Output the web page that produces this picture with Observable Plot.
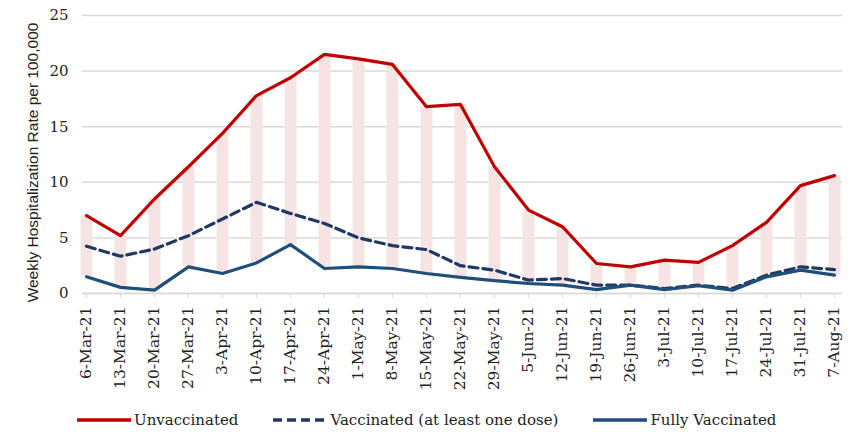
<!DOCTYPE html>
<html><head><meta charset="utf-8">
<script src="https://cdn.jsdelivr.net/npm/d3@7"></script>
<script src="https://cdn.jsdelivr.net/npm/@observablehq/plot@0.6"></script>
<style>
body{margin:0;background:#fff;}
#wrap{position:relative;width:859px;height:432px;}
.legend{position:absolute;left:77px;top:411px;display:flex;align-items:center;gap:35px;font-family:"DejaVu Serif",serif;font-size:15px;color:#222;}
.legend .item{display:flex;align-items:center;gap:3px;}
</style></head>
<body><div id="wrap"></div>
<script>
const dates = ["6-Mar-21","13-Mar-21","20-Mar-21","27-Mar-21","3-Apr-21","10-Apr-21","17-Apr-21","24-Apr-21","1-May-21","8-May-21","15-May-21","22-May-21","29-May-21","5-Jun-21","12-Jun-21","19-Jun-21","26-Jun-21","3-Jul-21","10-Jul-21","17-Jul-21","24-Jul-21","31-Jul-21","7-Aug-21"];
const unvaccinated = [7.0,5.2,8.5,11.4,14.4,17.8,19.4,21.5,21.1,20.6,16.8,17.0,11.4,7.5,6.0,2.7,2.4,3.0,2.8,4.3,6.4,9.7,10.6];
const atLeastOne = [4.25,3.35,4.0,5.2,6.7,8.2,7.2,6.3,5.0,4.3,3.95,2.5,2.1,1.2,1.35,0.75,0.75,0.45,0.75,0.45,1.65,2.4,2.15];
const fully = [1.5,0.55,0.3,2.4,1.8,2.75,4.4,2.25,2.4,2.25,1.8,1.45,1.15,0.9,0.75,0.35,0.75,0.35,0.7,0.3,1.5,2.1,1.65];
const yTicks = [0,5,10,15,20,25];
const seriesNames = ["Unvaccinated","Vaccinated (at least one dose)","Fully Vaccinated"];

const rows = dates.map((d,i)=>({date:d,u:unvaccinated[i],a:atLeastOne[i],f:fully[i]}));
const RED="#c00000", NAVY="#1f3864", BLUE="#1f4e79";

const chart = Plot.plot({
  width:859, height:400,
  marginLeft:82, marginRight:17, marginTop:15, marginBottom:107,
  style:{fontFamily:"DejaVu Serif, serif", fontSize:"15px", color:"#222", background:"#fff"},
  x:{type:"point", domain:dates, padding:0, insetRight:5, label:null},
  y:{domain:[0,25], ticks:yTicks, label:null},
  marks:[
    Plot.gridY(yTicks,{stroke:"#d9d9d9", strokeOpacity:1, strokeWidth:1.5}),
    Plot.ruleX(rows,{x:"date", y1:"f", y2:"u", stroke:"#f6e4e4", strokeWidth:12}),
    Plot.ruleY([0],{stroke:"#d9d9d9", strokeWidth:1.5}),
    Plot.axisX({tickRotate:-90, tickSize:5, tickPadding:8, stroke:"#d9d9d9", fontSize:15.5, textAnchor:"end"}),
    Plot.axisY({ticks:yTicks, tickSize:0, tickPadding:14, fontSize:15}),
    Plot.line(rows,{x:"date", y:"u", stroke:RED, strokeWidth:3.2}),
    Plot.line(rows,{x:"date", y:"a", stroke:NAVY, strokeWidth:3.2, strokeDasharray:"9,5"}),
    Plot.line(rows,{x:"date", y:"f", stroke:BLUE, strokeWidth:3.2}),
    Plot.text(["Weekly Hospitalization Rate per 100,000"],{frameAnchor:"left", dx:-49, dy:8, rotate:-90, textAnchor:"middle", fontFamily:"Liberation Sans, sans-serif", fontSize:15.5, fill:"#222"})
  ]
});
const wrap = document.getElementById("wrap");
wrap.appendChild(chart);

const legend = document.createElement("div");
legend.className="legend";
const styles=[{c:RED,d:null},{c:NAVY,d:"9,5"},{c:BLUE,d:null}];
seriesNames.forEach((n,i)=>{
  const it=document.createElement("div");it.className="item";
  it.innerHTML=`<svg width="54" height="6"><line x1="0" y1="3" x2="54" y2="3" stroke="${styles[i].c}" stroke-width="3.5" ${styles[i].d?`stroke-dasharray="${styles[i].d}"`:""}/></svg><span>${n}</span>`;
  legend.appendChild(it);
});
wrap.appendChild(legend);
</script></body></html>
